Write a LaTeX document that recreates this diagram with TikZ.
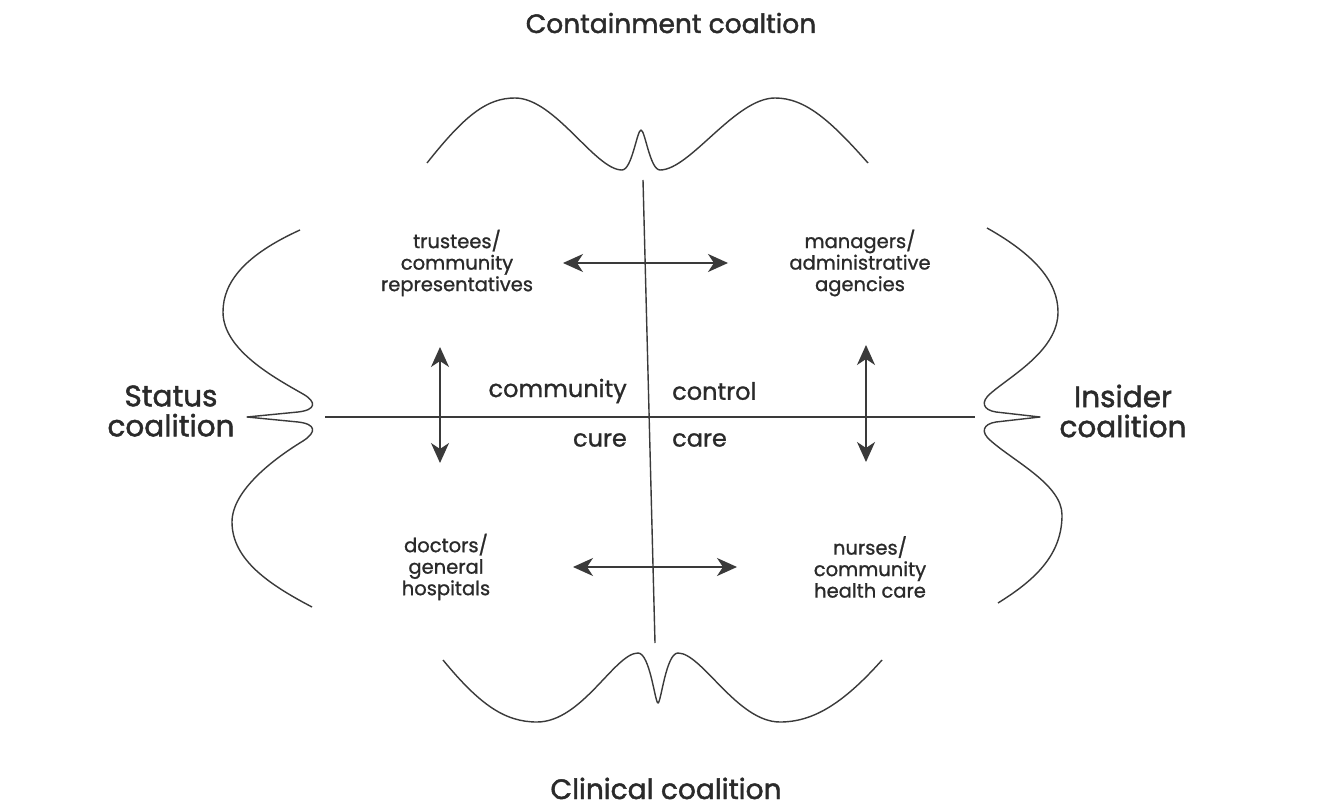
\documentclass[tikz,border=0pt]{standalone}
\usepackage{fontspec}
\setmainfont{Poppins}
\newfontfamily\heavyfont{Poppins}[FakeBold=1.6]
\newfontfamily\mediumfont{Poppins}[FakeBold=1.0]
\usetikzlibrary{arrows.meta}
\definecolor{ink}{HTML}{3A3A3A}
\definecolor{txt}{HTML}{2A2A2A}
\begin{document}
\begin{tikzpicture}[x=1pt,y=-1pt,
  curve/.style={draw=ink,line width=1.4pt,line join=round},
  axis/.style={draw=ink,line width=1.4pt},
  biarrow/.style={draw=ink,line width=1.6pt,{Stealth[length=20pt,width=18pt,inset=6pt]}-{Stealth[length=20pt,width=18pt,inset=6pt]}},
  bigtext/.style={text=txt,inner sep=0pt,align=center,font=\heavyfont\fontsize{29.5}{30}\selectfont},
  titletext/.style={text=txt,inner sep=0pt,font=\heavyfont\fontsize{26.5}{30}\selectfont},
  smalltext/.style={text=txt,inner sep=0pt,align=center,font=\mediumfont\fontsize{19.5}{21.5}\selectfont},
  midtext/.style={text=txt,inner sep=0pt,font=\mediumfont\fontsize{24}{26}\selectfont}]
\useasboundingbox[fill=white] (0,0) rectangle (1338,810);

% coalition labels around the border
\node[titletext,anchor=base] (containment) at (671,33) {Containment coaltion};
\node[titletext,anchor=base,font=\heavyfont\fontsize{28}{30}\selectfont] (clinical) at (666,799) {Clinical coalition};
\node[bigtext] (status) at (171,411) {Status\\coalition};
\node[bigtext] (insider) at (1123,411) {Insider\\coalition};

% actors in the four quadrants
\node[smalltext] (trustees) at (457,263) {trustees/\\community\\representatives};
\node[smalltext] (managers) at (860,263) {managers/\\administrative\\agencies};
\node[smalltext] (doctors) at (446,567) {doctors/\\general\\hospitals};
\node[smalltext] (nurses) at (870,567) {nurses/\\community\\health care};

% quadrant names beside the crossing axes
\node[midtext,anchor=east] (community) at (627,391) {community};
\node[midtext,anchor=west] (control) at (672,391) {control};
\node[midtext,anchor=east] (cure) at (627,440) {cure};
\node[midtext,anchor=west] (care) at (672,440) {care};

% axes
\coordinate (hl) at (325,417);
\coordinate (hr) at (975,417);
\coordinate (vt) at (643,180);
\coordinate (vb) at (655,643);
\draw[axis] (hl) -- (hr);
\draw[axis] (vt) -- (vb);

% double-headed arrows between the actors
\coordinate (ta) at (563,263);
\coordinate (tb) at (728,263);
\coordinate (ba) at (573,567);
\coordinate (bb) at (737,567);
\coordinate (la) at (440,347);
\coordinate (lb) at (440,463);
\coordinate (ra) at (866,345);
\coordinate (rb) at (866,462);
\draw[biarrow] (ta) -- (tb);
\draw[biarrow] (ba) -- (bb);
\draw[biarrow] (la) -- (lb);
\draw[biarrow] (ra) -- (rb);

% top wave with a spike at the axis
\draw[curve] (427,163) .. controls (465,115) and (487,98) .. (515,98)
  .. controls (555,98) and (595,170) .. (622,170)
  .. controls (632,170) and (637,130) .. (641,130)
  .. controls (645,130) and (650,170) .. (660,170)
  .. controls (690,170) and (735,98) .. (775,98)
  .. controls (805,98) and (830,120) .. (868,163);

% bottom wave with a spike at the axis
\draw[curve] (443,660) .. controls (480,705) and (505,722) .. (537,722)
  .. controls (582,722) and (615,653) .. (638,653)
  .. controls (650,653) and (655,703) .. (658,703)
  .. controls (661,703) and (666,653) .. (678,653)
  .. controls (702,653) and (737,722) .. (780,722)
  .. controls (812,722) and (842,705) .. (882,660);

% left wave with a spike at the axis
\draw[curve] (300,230) .. controls (245,255) and (223,282) .. (223,312)
  .. controls (223,350) and (275,378) .. (303,394)
  .. controls (317,402) and (316,410) .. (298,412)
  -- (247,417) -- (298,422)
  .. controls (316,424) and (317,432) .. (303,441)
  .. controls (275,458) and (232,490) .. (232,522)
  .. controls (232,560) and (270,585) .. (312,607);

% right wave with a spike at the axis
\draw[curve] (987,228) .. controls (1035,255) and (1058,282) .. (1058,312)
  .. controls (1058,350) and (1012,375) .. (991,393)
  .. controls (980,402) and (983,410) .. (996,412)
  -- (1040,417) -- (996,422)
  .. controls (983,424) and (980,432) .. (991,441)
  .. controls (1015,462) and (1062,485) .. (1062,515)
  .. controls (1062,555) and (1035,580) .. (998,603);
\end{tikzpicture}
\end{document}
